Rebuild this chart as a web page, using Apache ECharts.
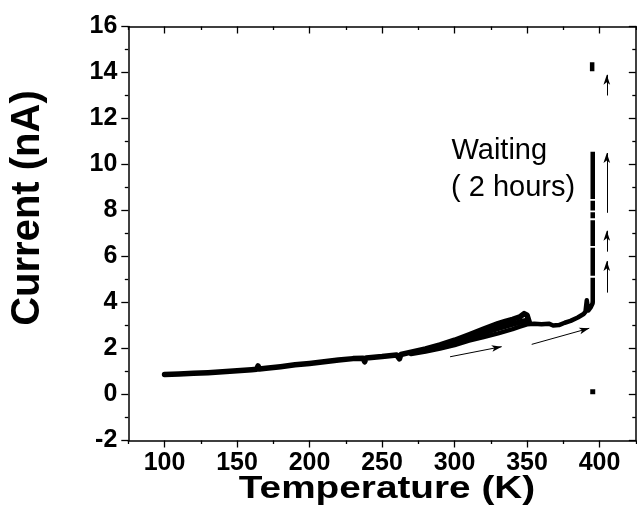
<!DOCTYPE html>
<html>
<head>
<meta charset="utf-8">
<script src="https://cdn.jsdelivr.net/npm/echarts@6/dist/echarts.min.js"></script>
<style>
html,body{margin:0;padding:0;background:#fff;}
#chart{width:637px;height:524px;}
</style>
</head>
<body>
<div id="chart"></div>
<script>
// ---- data ----
const xMajorTicks = [100, 150, 200, 250, 300, 350, 400];
const xMinorTicks = [75, 125, 175, 225, 275, 325, 375, 425];

// upper (dense) branch
const tempA = [100, 110, 120, 130, 140, 150, 160, 163.5, 164.5, 165.5, 170, 180, 190, 200, 210, 220, 230, 237, 238, 239, 250, 260, 262, 263, 270, 280, 290, 300, 310, 320, 330, 335, 340, 345, 348, 350, 351.5];
const currA = [0.87, 0.89, 0.92, 0.95, 0.99, 1.03, 1.08, 1.10, 1.24, 1.11, 1.14, 1.21, 1.29, 1.35, 1.42, 1.50, 1.56, 1.58, 1.42, 1.59, 1.65, 1.72, 1.55, 1.74, 1.84, 1.98, 2.16, 2.36, 2.60, 2.84, 3.08, 3.18, 3.27, 3.37, 3.52, 3.45, 3.15];

// middle of the thick band
const tempM = [280, 290, 300, 310, 320, 330, 340, 345, 350];
const currM = [1.92, 2.08, 2.26, 2.48, 2.68, 2.88, 3.06, 3.15, 3.22];

// lower branch continuing to ~395 K
const tempB = [270, 280, 290, 300, 310, 320, 330, 340, 345, 350, 355, 360, 365, 368, 372, 376, 380, 385, 389, 390.3, 391.2, 392.2, 394, 395.3];
const currB = [1.76, 1.87, 2.00, 2.15, 2.34, 2.50, 2.66, 2.84, 2.95, 3.05, 3.08, 3.05, 3.08, 3.00, 3.02, 3.12, 3.20, 3.35, 3.50, 3.60, 4.10, 3.65, 3.80, 3.98];

// waiting at ~395 K : current rising (segments separated by small gaps)
const waitT = 395.3;
const waitSegments = [[4.0, 5.08], [5.16, 6.38], [6.46, 7.58], [7.66, 7.92], [8.0, 8.42], [8.5, 10.55]];
const topClusterT = 394.9;
const topCluster = [14.05, 14.45];
const lonePoint = [395.3, 0.12];

// annotation arrows [x1, y1, x2, y2]
const arrows = [
  [296.9, 1.64, 332.5, 2.08],
  [353.2, 2.18, 392.9, 2.88],
  [405, 4.43, 405, 5.8],
  [405, 6.21, 405, 7.12],
  [405, 7.9, 405, 10.5],
  [405, 13.0, 405, 13.9]
];

const xMin = 75, xMax = 425, yMin = -2, yMax = 16, yStep = 2;

// ---- build ----
const pairs = (xs, ys) => xs.map((t, i) => [t, ys[i]]);
const lineA = pairs(tempA, currA);
const lineM = pairs(tempM, currM);
const lineB = pairs(tempB, currB);
const waitLine = [];
waitSegments.forEach((s, i) => {
  if (i > 0) waitLine.push([waitT, '-']);
  waitLine.push([waitT, s[0]], [waitT, s[1]]);
});
const clusterLine = topCluster.map(v => [topClusterT, v]);

const chart = echarts.init(document.getElementById('chart'), null, {renderer: 'canvas'});
const black = '#000';
const labelFont = {fontFamily: '"Liberation Sans", Arial, sans-serif', fontWeight: 'bold', fontSize: 25, color: black};
const tickStyle = {color: black, width: 1.3};

const option = {
  animation: false,
  backgroundColor: '#fff',
  grid: {left: 128.3, right: 1.2, top: 26.5, bottom: 83.5},
  xAxis: [
    {type: 'value', min: xMin, max: xMax, position: 'bottom',
      axisLine: {show: true, onZero: false, lineStyle: {color: black, width: 1.5}},
      axisTick: {show: true, customValues: xMajorTicks, length: 7, lineStyle: tickStyle},
      axisLabel: Object.assign({customValues: xMajorTicks, margin: 10}, labelFont),
      splitLine: {show: false}},
    {type: 'value', min: xMin, max: xMax, position: 'bottom',
      axisLine: {show: false, onZero: false},
      axisTick: {show: true, customValues: xMinorTicks, length: 3.5, lineStyle: tickStyle},
      axisLabel: {show: false}, splitLine: {show: false}},
    {type: 'value', min: xMin, max: xMax, position: 'top',
      axisLine: {show: true, onZero: false, lineStyle: {color: black, width: 1.5}},
      axisTick: {show: true, inside: true, customValues: xMajorTicks, length: 7, lineStyle: tickStyle},
      axisLabel: {show: false}, splitLine: {show: false}},
    {type: 'value', min: xMin, max: xMax, position: 'top',
      axisLine: {show: false, onZero: false},
      axisTick: {show: true, inside: true, customValues: xMinorTicks, length: 3.5, lineStyle: tickStyle},
      axisLabel: {show: false}, splitLine: {show: false}}
  ],
  yAxis: [
    {type: 'value', min: yMin, max: yMax, interval: yStep, position: 'left',
      axisLine: {show: true, onZero: false, lineStyle: {color: black, width: 1.5}},
      axisTick: {show: true, length: 7, lineStyle: tickStyle},
      minorTick: {show: true, splitNumber: 2, length: 3.5, lineStyle: tickStyle},
      axisLabel: Object.assign({margin: 11}, labelFont),
      splitLine: {show: false}},
    {type: 'value', min: yMin, max: yMax, interval: yStep, position: 'right',
      axisLine: {show: true, onZero: false, lineStyle: {color: black, width: 1.5}},
      axisTick: {show: true, inside: true, length: 7, lineStyle: tickStyle},
      minorTick: {show: true, splitNumber: 2, length: 3.5, lineStyle: tickStyle},
      axisLabel: {show: false},
      splitLine: {show: false}}
  ],
  series: [
    {type: 'line', name: 'upper', data: lineA, xAxisIndex: 0, yAxisIndex: 0, showSymbol: false, symbol: 'none',
      lineStyle: {color: black, width: 5.5, cap: 'round', join: 'round'}},
    {type: 'line', name: 'middle', data: lineM, xAxisIndex: 0, yAxisIndex: 0, showSymbol: false, symbol: 'none',
      lineStyle: {color: black, width: 5.5, cap: 'round', join: 'round'}},
    {type: 'line', name: 'lower', data: lineB, xAxisIndex: 0, yAxisIndex: 0, showSymbol: false, symbol: 'none',
      lineStyle: {color: black, width: 4.5, cap: 'round', join: 'round'}},
    {type: 'line', name: 'waiting', data: waitLine, xAxisIndex: 0, yAxisIndex: 0, showSymbol: false, symbol: 'none',
      connectNulls: false, lineStyle: {color: black, width: 4.5}},
    {type: 'line', name: 'cluster', data: clusterLine, xAxisIndex: 0, yAxisIndex: 0, showSymbol: false, symbol: 'none',
      lineStyle: {color: black, width: 4.5}},
    {type: 'scatter', name: 'point', data: [lonePoint], xAxisIndex: 0, yAxisIndex: 0, symbol: 'rect', symbolSize: 5,
      itemStyle: {color: black, opacity: 1}},
    {type: 'line', name: 'arrows', data: [], xAxisIndex: 0, yAxisIndex: 0,
      markLine: {
        silent: true, animation: false,
        symbol: ['none', 'arrow'], symbolSize: [5, 10],
        label: {show: false},
        lineStyle: {color: black, width: 1, type: 'solid'},
        data: arrows.map(a => [{coord: [a[0], a[1]]}, {coord: [a[2], a[3]]}])
      }}
  ],
  graphic: [
    {type: 'text', x: 387, y: 489, scaleX: 1.25, style: {text: 'Temperature (K)', fill: black,
      font: 'bold 31px "Liberation Sans", Arial, sans-serif', align: 'center', verticalAlign: 'middle'}},
    {type: 'text', x: 28, y: 208, rotation: Math.PI / 2, style: {text: 'Current (nA)', fill: black,
      font: 'bold 40px "Liberation Sans", Arial, sans-serif', align: 'center', verticalAlign: 'middle'}},
    {type: 'text', x: 451.5, y: 151, style: {text: 'Waiting', fill: black,
      font: '29px "Liberation Sans", Arial, sans-serif', align: 'left', verticalAlign: 'middle'}},
    {type: 'text', x: 451, y: 187.5, style: {text: '( 2 hours)', fill: black,
      font: '29px "Liberation Sans", Arial, sans-serif', align: 'left', verticalAlign: 'middle'}}
  ]
};
chart.setOption(option);
</script>
</body>
</html>
